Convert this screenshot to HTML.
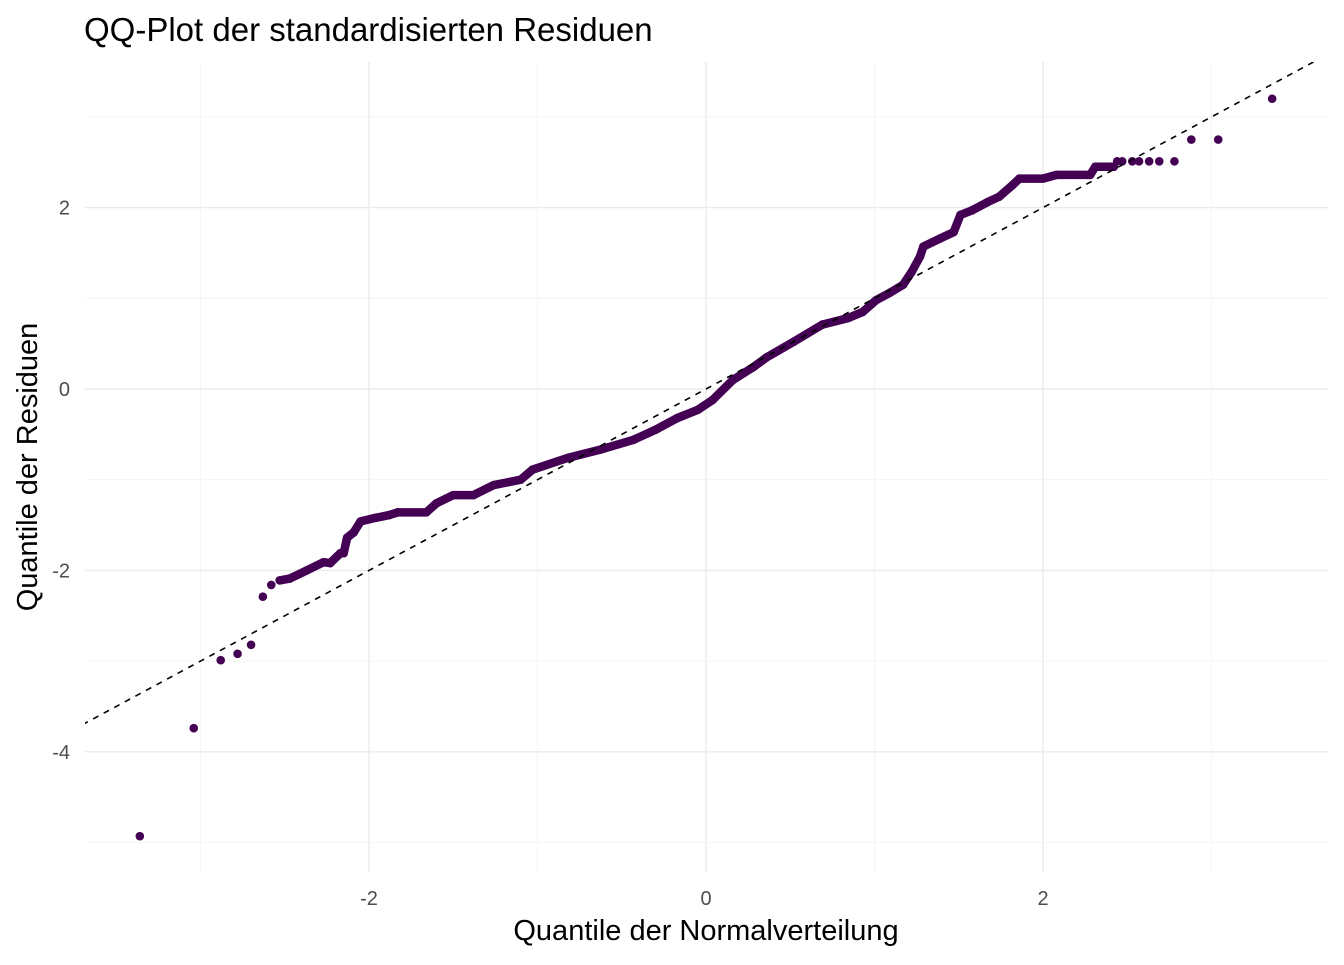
<!DOCTYPE html>
<html><head><meta charset="utf-8"><style>
body{margin:0;background:#fff;}
svg text{font-family:"Liberation Sans",Arial,sans-serif;}
</style></head><body>
<svg width="1344" height="960" xmlns="http://www.w3.org/2000/svg">
<defs><clipPath id="pc"><rect x="85" y="62" width="1243" height="810"/></clipPath></defs>
<rect width="1344" height="960" fill="#fff"/>
<g id="grid"></g>
<g id="ticks"></g>
<g id="marks" clip-path="url(#pc)"></g>
<text x="84" y="41" font-size="33" fill="#000">QQ-Plot der standardisierten Residuen</text>
<text x="706" y="940" font-size="29" text-anchor="middle" fill="#000">Quantile der Normalverteilung</text>
<text transform="translate(37,467) rotate(-90)" font-size="29" text-anchor="middle" fill="#000">Quantile der Residuen</text>
</svg>
<script>
const xTicks = [-2, 0, 2];
const xTickLabels = ["-2", "0", "2"];
const yTicks = [-4, -2, 0, 2];
const yTickLabels = ["-4", "-2", "0", "2"];
const xMinor = [-3, -1, 1, 3];
const yMinor = [-5, -3, -1, 1, 3];
const bandX = [-2.53,-2.47,-2.37,-2.27,-2.23,-2.17,-2.15,-2.13,-2.09,-2.05,-1.96,-1.88,-1.83,-1.66,-1.60,-1.50,-1.38,-1.26,-1.10,-1.03,-0.82,-0.63,-0.43,-0.30,-0.17,-0.05,0.04,0.16,0.28,0.36,0.52,0.69,0.84,0.93,1.01,1.09,1.17,1.22,1.27,1.29,1.39,1.47,1.51,1.58,1.67,1.74,1.82,1.86,2.00,2.08,2.28,2.31,2.42];
const bandY = [-2.11,-2.09,-2.00,-1.91,-1.92,-1.81,-1.81,-1.64,-1.58,-1.46,-1.42,-1.39,-1.36,-1.36,-1.26,-1.17,-1.17,-1.06,-1.00,-0.89,-0.76,-0.67,-0.56,-0.45,-0.32,-0.23,-0.12,0.10,0.24,0.35,0.52,0.71,0.78,0.85,0.98,1.06,1.15,1.29,1.46,1.57,1.66,1.73,1.92,1.97,2.06,2.12,2.25,2.32,2.32,2.36,2.36,2.45,2.45];
const dotX = [-3.36,-3.04,-2.88,-2.78,-2.70,-2.63,-2.58,2.44,2.47,2.53,2.57,2.63,2.69,2.78,2.88,3.04,3.36];
const dotY = [-4.93,-3.74,-2.99,-2.92,-2.82,-2.29,-2.16,2.51,2.51,2.51,2.51,2.51,2.51,2.51,2.75,2.75,3.20];
const refLine = [-3.7, 3.7];

const NS = "http://www.w3.org/2000/svg";
const L = 85, R = 1328, T = 62, B = 872;
const sx = v => 706 + v * 168.5;
const sy = v => 389 - v * 90.7;
function mk(tag, attrs, parent) {
  const e = document.createElementNS(NS, tag);
  for (const k in attrs) e.setAttribute(k, attrs[k]);
  parent.appendChild(e);
  return e;
}
const grid = document.getElementById('grid');
const ticks = document.getElementById('ticks');
const marks = document.getElementById('marks');
xMinor.forEach(v => {
  const e = mk('line', {x1: sx(v), x2: sx(v), y1: T, y2: B, stroke: '#f3f3f3', 'stroke-width': 0.8}, grid);
  
  
});
yMinor.forEach(v => {
  const e = mk('line', {x1: L, x2: R, y1: sy(v), y2: sy(v), stroke: '#f3f3f3', 'stroke-width': 0.8}, grid);
  
  
});
xTicks.forEach((v, i) => {
  const e = mk('line', {x1: sx(v), x2: sx(v), y1: T, y2: B, stroke: '#ebebeb', 'stroke-width': 1.4}, grid);
  
  
  const t = mk('text', {x: sx(v), y: 905, 'font-size': 20, fill: '#4d4d4d', 'text-anchor': 'middle'}, ticks);
  t.textContent = xTickLabels[i];
  
  
});
yTicks.forEach((v, i) => {
  const e = mk('line', {x1: L, x2: R, y1: sy(v), y2: sy(v), stroke: '#ebebeb', 'stroke-width': 1.4}, grid);
  
  
  const t = mk('text', {x: 70, y: sy(v) + 7, 'font-size': 20, fill: '#4d4d4d', 'text-anchor': 'end'}, ticks);
  t.textContent = yTickLabels[i];
  
  
});
const col = '#440154';
const pts = bandX.map((v, i) => sx(v).toFixed(1) + ',' + sy(bandY[i]).toFixed(1)).join(' ');
const band = mk('polyline', {points: pts, fill: 'none', stroke: col, 'stroke-width': 8.5, 'stroke-linecap': 'round', 'stroke-linejoin': 'round'}, marks);


bandX.forEach((v, i) => {
  const c = mk('circle', {cx: sx(v), cy: sy(bandY[i]), r: 4.3, fill: col}, marks);
  
  
});
dotX.forEach((v, i) => {
  const c = mk('circle', {cx: sx(v), cy: sy(dotY[i]), r: 4.3, fill: col}, marks);
  
  
});
const ln = mk('line', {x1: sx(refLine[0]), y1: sy(refLine[0]), x2: sx(refLine[1]), y2: sy(refLine[1]), stroke: '#000', 'stroke-width': 1.6, 'stroke-dasharray': '6,6'}, marks);


</script>
</body></html>
